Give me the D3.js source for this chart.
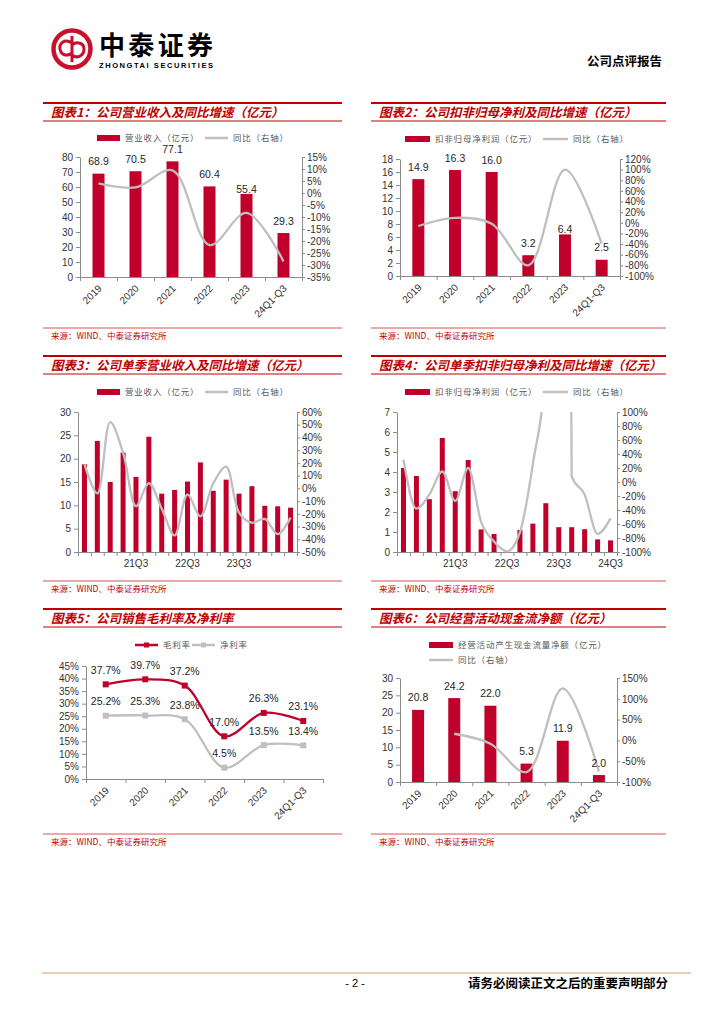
<!DOCTYPE html>
<html>
<head>
<meta charset="utf-8">
<script src="https://cdn.jsdelivr.net/npm/d3@7"></script>
<style>
body { margin: 0; background: #fff; }
svg { display: block; }
</style>
</head>
<body>
<svg id="page" width="724" height="1024"></svg>
<script>
// ---- data ----
var years = ["2019", "2020", "2021", "2022", "2023", "24Q1-Q3"];
var revenue = [68.9, 70.5, 77.1, 60.4, 55.4, 29.3];
var revenueYoy = [4.0, 2.3, 9.4, -21.7, -8.3, -28.5];
var deductedProfit = [14.9, 16.3, 16.0, 3.2, 6.4, 2.5];
var deductedProfitYoy = [-6, 9.4, -1.8, -80, 100, -39];

var quarters = ["20Q3", "20Q4", "21Q1", "21Q2", "21Q3", "21Q4", "22Q1", "22Q2", "22Q3",
                "22Q4", "23Q1", "23Q2", "23Q3", "23Q4", "24Q1", "24Q2", "24Q3"];
var quarterRevenue = [18.8, 23.8, 15.0, 21.3, 16.1, 24.7, 12.5, 13.3, 15.1, 19.2, 13.1, 15.5, 12.5, 14.1, 9.9, 9.8, 9.5];
var quarterRevenueYoy = [19, -4, 52, 28, -14, 4, -16, -37, -5, -22, 4, 17, -19, -27, -24, -36, -23];
var quarterProfit = [4.2, 3.8, 2.64, 5.7, 3.04, 4.6, 1.13, 0.9, 0.01, 1.1, 1.42, 2.44, 1.24, 1.24, 1.14, 0.63, 0.58];
var quarterProfitYoy = [32, -38, -18, 15, -27, 20, -57, -85, -99, -72, 26, 171, 3000, 8, -18, -74, -52];
var revenueQuarterTicks = ["21Q3", "22Q3", "23Q3"];
var profitQuarterTicks = ["21Q3", "22Q3", "23Q3", "24Q3"];

var grossMargin = [37.7, 39.7, 37.2, 17.0, 26.3, 23.1];
var netMargin = [25.2, 25.3, 23.8, 4.5, 13.5, 13.4];

var operatingCashFlow = [20.8, 24.2, 22.0, 5.3, 11.9, 2.0];
var operatingCashFlowYoy = [null, 16, -8, -76, 125, -75];

// ---- styling ----
var red = "#c0002b";
var titleRed = "#c00000";
var gray = "#bfbfbf";
var axisGray = "#8c8c8c";
var latin = "'Liberation Sans', Arial, sans-serif";
var cjk = "'Noto Sans CJK SC', sans-serif";

var svg = d3.select("#page");

// ---- page header / footer ----
var logo = svg.append("g").attr("stroke", "#c8102e").attr("fill", "none");
logo.append("circle").attr("cx", 72).attr("cy", 49).attr("r", 18.5).attr("stroke-width", 4.5);
logo.append("path").attr("stroke-width", 3)
    .attr("d", "M72,36 L72,62 M72,43 C64,38 59,44 60,49 C61,55 67,57 72,53 M72,45 C77,41 84,43 84,49 C84,56 77,59 72,55");

svg.append("text").attr("x", 99).attr("y", 55)
    .style("font-family", cjk).style("font-size", "26px").style("font-weight", "bold")
    .attr("textLength", 114).text("中泰证券");
svg.append("text").attr("x", 99).attr("y", 68)
    .style("font-family", latin).style("font-size", "7.5px").style("font-weight", "bold")
    .attr("textLength", 114).text("ZHONGTAI SECURITIES");
svg.append("text").attr("x", 662).attr("y", 66).attr("text-anchor", "end")
    .style("font-family", cjk).style("font-size", "12.5px").style("font-weight", "bold")
    .text("公司点评报告");

svg.append("line").attr("x1", 42).attr("x2", 691).attr("y1", 973).attr("y2", 973)
    .attr("stroke", "#e6bc9c").attr("stroke-width", 1.5);
svg.append("text").attr("x", 355).attr("y", 987).attr("text-anchor", "middle")
    .style("font-family", latin).style("font-size", "11px").text("- 2 -");
svg.append("text").attr("x", 668).attr("y", 988).attr("text-anchor", "end")
    .style("font-family", cjk).style("font-size", "12.5px").style("font-weight", "bold")
    .text("请务必阅读正文之后的重要声明部分");

// ---- panel frame: title bars and source line ----
function panelFrame(x0, x1, top, title) {
  svg.append("line").attr("x1", x0).attr("x2", x1).attr("y1", top).attr("y2", top)
      .attr("stroke", titleRed).attr("stroke-width", 2);
  svg.append("text").attr("x", x0 + 8).attr("y", top + 14)
      .attr("fill", titleRed)
      .style("font-family", cjk).style("font-size", "12.5px")
      .style("font-weight", "bold").style("font-style", "italic")
      .text(title);
  svg.append("line").attr("x1", x0).attr("x2", x1).attr("y1", top + 18).attr("y2", top + 18)
      .attr("stroke", titleRed).attr("stroke-width", 1);
  svg.append("line").attr("x1", x0).attr("x2", x1).attr("y1", top + 225).attr("y2", top + 225)
      .attr("stroke", "#d9534f").attr("stroke-width", 1);
  svg.append("text").attr("x", x0 + 8).attr("y", top + 235.5)
      .attr("fill", titleRed)
      .style("font-family", cjk).style("font-size", "8.5px")
      .text("来源：WIND、中泰证券研究所");
}

function legendItem(type, x, y, w, label, color) {
  var g = svg.append("g");
  if (type === "bar") {
    g.append("rect").attr("x", x).attr("y", y - 3).attr("width", w).attr("height", 6).attr("fill", color);
  } else {
    g.append("line").attr("x1", x).attr("x2", x + w).attr("y1", y).attr("y2", y)
        .attr("stroke", color).attr("stroke-width", 2.5);
    if (type === "marker") {
      g.append("rect").attr("x", x + w / 2 - 2.5).attr("y", y - 2.5).attr("width", 5).attr("height", 5).attr("fill", color);
    }
  }
  g.append("text").attr("x", x + w + 5).attr("y", y + 3)
      .attr("fill", "#595959")
      .style("font-family", cjk).style("font-size", "8.5px").style("letter-spacing", "0.8px")
      .text(label);
}

function styleAxis(sel) {
  sel.attr("font-family", latin).attr("font-size", 10);
  sel.select(".domain").attr("stroke", axisGray);
  sel.selectAll(".tick line").attr("stroke", axisGray);
  sel.selectAll(".tick text").attr("fill", "#333");
}

function pct(d) { return d + "%"; }
var plain = d3.format("d");

// ---- bars + yoy line chart ----
function comboChart(o) {
  var n = o.cats.length;
  var x = d3.scaleBand().domain(o.cats).range([o.left, o.right]).padding(0);
  var xEdge = d3.scaleLinear().domain([0, n]).range([o.left, o.right]);
  var y = d3.scaleLinear().domain(o.yDomain).range([o.bottom, o.top]);
  var yR = d3.scaleLinear().domain(o.rDomain).range([o.bottom, o.top]);
  var g = svg.append("g");

  g.selectAll("rect.bar").data(o.bars).enter().append("rect")
      .attr("class", "bar")
      .attr("x", function(d, i) { return x(o.cats[i]) + (x.bandwidth() - o.barW) / 2; })
      .attr("y", function(d) { return y(d); })
      .attr("width", o.barW)
      .attr("height", function(d) { return y(0) - y(d); })
      .attr("fill", red);

  g.append("g").attr("transform", "translate(" + o.left + ",0)")
      .call(d3.axisLeft(y).tickValues(d3.range(o.yDomain[0], o.yDomain[1] + 1e-9, o.yStep))
          .tickSize(4).tickSizeOuter(0).tickPadding(3).tickFormat(plain))
      .call(styleAxis);
  g.append("g").attr("transform", "translate(" + o.right + ",0)")
      .call(d3.axisRight(yR).tickValues(d3.range(o.rDomain[0], o.rDomain[1] + 1e-9, o.rStep))
          .tickSize(3).tickSizeOuter(0).tickPadding(2).tickFormat(pct))
      .call(styleAxis);
  g.append("g").attr("transform", "translate(0," + o.bottom + ")")
      .call(d3.axisBottom(xEdge).tickValues(d3.range(n + 1)).tickSize(4).tickSizeOuter(0).tickFormat(""))
      .call(styleAxis);

  var clipId = "clip" + Math.round(o.left) + "_" + Math.round(o.top);
  g.append("clipPath").attr("id", clipId).append("rect")
      .attr("x", o.left - 5).attr("y", o.top).attr("width", o.right - o.left + 10).attr("height", o.bottom - o.top + 5);

  var line = d3.line()
      .defined(function(d) { return d !== null; })
      .x(function(d, i) { return x(o.cats[i]) + x.bandwidth() / 2; })
      .y(function(d) { return yR(d); })
      .curve(o.curve || d3.curveCatmullRom.alpha(0.5));
  g.append("path").datum(o.yoy)
      .attr("d", line)
      .attr("clip-path", "url(#" + clipId + ")")
      .attr("fill", "none").attr("stroke", gray).attr("stroke-width", 2.3);

  if (o.labels) {
    var nudge = o.nudge || {};
    g.selectAll("text.val").data(o.bars).enter().append("text")
        .attr("class", "val")
        .attr("x", function(d, i) { return x(o.cats[i]) + x.bandwidth() / 2; })
        .attr("y", function(d, i) { return y(d) - 8.5 + (nudge[i] || 0); })
        .attr("text-anchor", "middle").attr("fill", "#262626")
        .style("font-family", latin).style("font-size", "10.5px")
        .text(function(d) { return d.toFixed(1); });
  }

  if (o.rotateLabels) {
    g.selectAll("text.cat").data(o.cats).enter().append("text")
        .attr("class", "cat")
        .attr("transform", function(d) {
          return "translate(" + (x(d) + x.bandwidth() / 2 + 4) + "," + (o.bottom + 12) + ") rotate(-45)";
        })
        .attr("text-anchor", "end").attr("fill", "#333")
        .style("font-family", latin).style("font-size", "10px")
        .text(function(d) { return d; });
  } else {
    g.selectAll("text.cat").data(o.tickLabels).enter().append("text")
        .attr("class", "cat")
        .attr("x", function(d) { return x(d) + x.bandwidth() / 2; })
        .attr("y", o.bottom + 15)
        .attr("text-anchor", "middle").attr("fill", "#333")
        .style("font-family", latin).style("font-size", "10px")
        .text(function(d) { return d; });
  }
}

// ---- chart 1 ----
panelFrame(43, 342, 103, "图表1：公司营业收入及同比增速（亿元）");
legendItem("bar", 97, 138, 23, "营业收入（亿元）", red);
legendItem("line", 205, 138, 23, "同比（右轴）", gray);
comboChart({
  cats: years, bars: revenue, yoy: revenueYoy,
  left: 80, right: 302, top: 157, bottom: 277,
  yDomain: [0, 80], yStep: 10, rDomain: [-35, 15], rStep: 5,
  barW: 12, labels: true, rotateLabels: true, nudge: {4: 8}
});

// ---- chart 2 ----
panelFrame(371, 666, 103, "图表2：公司扣非归母净利及同比增速（亿元）");
legendItem("bar", 405, 139, 25, "扣非归母净利润（亿元）", red);
legendItem("line", 543, 139, 25, "同比（右轴）", gray);
comboChart({
  cats: years, bars: deductedProfit, yoy: deductedProfitYoy,
  left: 400, right: 620, top: 159, bottom: 276,
  yDomain: [0, 18], yStep: 2, rDomain: [-100, 120], rStep: 20,
  barW: 12, labels: true, rotateLabels: true, nudge: {4: 7}
});

// ---- chart 3 ----
panelFrame(43, 342, 356, "图表3：公司单季营业收入及同比增速（亿元）");
legendItem("bar", 97, 392, 23, "营业收入（亿元）", red);
legendItem("line", 205, 392, 23, "同比（右轴）", gray);
comboChart({
  cats: quarters, bars: quarterRevenue, yoy: quarterRevenueYoy,
  left: 78, right: 297, top: 412, bottom: 552,
  yDomain: [0, 30], yStep: 5, rDomain: [-50, 60], rStep: 10,
  barW: 5, labels: false, rotateLabels: false, tickLabels: revenueQuarterTicks
});

// ---- chart 4 ----
panelFrame(371, 666, 356, "图表4：公司单季扣非归母净利及同比增速（亿元）");
legendItem("bar", 405, 392, 25, "扣非归母净利润（亿元）", red);
legendItem("line", 543, 392, 25, "同比（右轴）", gray);
comboChart({
  cats: quarters, bars: quarterProfit, yoy: quarterProfitYoy,
  left: 397, right: 617, top: 412, bottom: 552,
  yDomain: [0, 7], yStep: 1, rDomain: [-100, 100], rStep: 20,
  barW: 5, labels: false, rotateLabels: false, tickLabels: profitQuarterTicks,
  curve: d3.curveMonotoneX
});

// ---- chart 5: margins ----
panelFrame(43, 342, 609, "图表5：公司销售毛利率及净利率");
legendItem("marker", 135, 645, 23, "毛利率", red);
legendItem("marker", 192, 645, 23, "净利率", gray);
(function() {
  var left = 86, right = 323, top = 666, bottom = 779;
  var x = d3.scaleBand().domain(years).range([left, right]).padding(0);
  var xEdge = d3.scaleLinear().domain([0, years.length]).range([left, right]);
  var y = d3.scaleLinear().domain([0, 45]).range([bottom, top]);
  var g = svg.append("g");
  g.append("g").attr("transform", "translate(" + left + ",0)")
      .call(d3.axisLeft(y).tickValues(d3.range(0, 46, 5)).tickSize(4).tickSizeOuter(0).tickPadding(3).tickFormat(pct))
      .call(styleAxis);
  g.append("g").attr("transform", "translate(0," + bottom + ")")
      .call(d3.axisBottom(xEdge).tickValues(d3.range(years.length + 1)).tickSize(4).tickSizeOuter(0).tickFormat(""))
      .call(styleAxis);
  var cx = function(d, i) { return x(years[i]) + x.bandwidth() / 2; };
  var line = d3.line().x(cx).y(function(d) { return y(d); }).curve(d3.curveCatmullRom.alpha(0.5));
  [[netMargin, gray], [grossMargin, red]].forEach(function(s) {
    g.append("path").datum(s[0]).attr("d", line)
        .attr("fill", "none").attr("stroke", s[1]).attr("stroke-width", 2.3);
    g.selectAll(null).data(s[0]).enter().append("rect")
        .attr("x", function(d, i) { return cx(d, i) - 3; })
        .attr("y", function(d) { return y(d) - 3; })
        .attr("width", 6).attr("height", 6).attr("fill", s[1]);
    g.selectAll(null).data(s[0]).enter().append("text")
        .attr("x", cx).attr("y", function(d) { return y(d) - 10.5; })
        .attr("text-anchor", "middle").attr("fill", "#262626")
        .style("font-family", latin).style("font-size", "10.5px")
        .text(function(d) { return d.toFixed(1) + "%"; });
  });
  g.selectAll("text.cat").data(years).enter().append("text")
      .attr("transform", function(d) {
        return "translate(" + (x(d) + x.bandwidth() / 2 + 4) + "," + (bottom + 12) + ") rotate(-45)";
      })
      .attr("text-anchor", "end").attr("fill", "#333")
      .style("font-family", latin).style("font-size", "10px")
      .text(function(d) { return d; });
})();

// ---- chart 6 ----
panelFrame(371, 666, 609, "图表6：公司经营活动现金流净额（亿元）");
legendItem("bar", 429, 645, 24, "经营活动产生现金流量净额（亿元）", red);
legendItem("line", 429, 660, 24, "同比（右轴）", gray);
comboChart({
  cats: years, bars: operatingCashFlow, yoy: operatingCashFlowYoy,
  left: 400, right: 617, top: 678, bottom: 782,
  yDomain: [0, 30], yStep: 5, rDomain: [-100, 150], rStep: 50,
  barW: 12, labels: true, rotateLabels: true
});
</script>
</body>
</html>
